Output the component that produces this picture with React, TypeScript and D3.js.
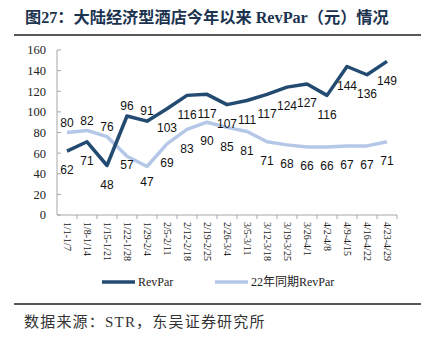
import React from "react";
import * as d3 from "d3";

const categories = ["1/1-1/7","1/8-1/14","1/15-1/21","1/22-1/28","1/29-2/4","2/5-2/11","2/12-2/18","2/19-2/25","2/26-3/4","3/5-3/11","3/12-3/18","3/19-3/25","3/26-4/1","4/2-4/8","4/9-4/15","4/16-4/22","4/23-4/29"];
const revpar = [62,71,48,96,91,103,116,117,107,111,117,124,127,116,144,136,149];
const revpar22 = [80,82,76,57,47,69,83,90,85,81,71,68,66,66,67,67,71];
const yTicks = [0,20,40,60,80,100,120,140,160];
const seriesNames = ["RevPar", "22年同期RevPar"];

const W = 425, H = 340;
const serif = "'Liberation Serif', 'DejaVu Serif', 'Noto Sans CJK SC', serif";
const sans = "'Liberation Sans', Arial, sans-serif";
const DARK = "#234a70";
const LIGHT = "#b4c7e7";

export default function App() {
  const x = d3.scaleBand<string>().domain(categories).range([57, 397]);
  const y = d3.scaleLinear().domain([0, 160]).range([215, 50]);
  const cx = (i: number) => (x(categories[i]) as number) + x.bandwidth() / 2;
  const line = d3.line<number>().x((_, i) => cx(i)).y((d) => y(d));

  // label offset logic (center y relative to point)
  const darkOff = (i: number) => (i === 3 || i === 4 ? -10 : 19);
  const lightOff = (i: number) => (i <= 2 ? -10 : i === 3 ? 9 : i === 4 ? 15 : 19);

  return (
    <svg width={W} height={H} style={{ position: "absolute", left: 0, top: 0, background: "#fff" }}>
      <text x={25} y={23} fontFamily={serif} fontWeight="bold" fontSize={16.2} fill="#1c3350">
        图27：大陆经济型酒店今年以来 RevPar（元）情况
      </text>
      <line x1={14} x2={421} y1={35} y2={35} stroke="#222" strokeWidth={1.5} />

      {/* y axis */}
      <line x1={57} x2={57} y1={y(160)} y2={y(0)} stroke="#a6a6a6" strokeWidth={1} />
      {yTicks.map((t) => (
        <g key={t}>
          <line x1={57} x2={61} y1={y(t)} y2={y(t)} stroke="#a6a6a6" />
          <text x={46} y={y(t)} dy="0.35em" textAnchor="end" fontFamily={serif} fontSize={12.5} fill="#222">{t}</text>
        </g>
      ))}
      {/* x axis */}
      <line x1={57} x2={397} y1={y(0)} y2={y(0)} stroke="#a6a6a6" />
      {categories.map((c, i) => (
        <g key={c}>
          <line x1={(x(c) as number) + x.bandwidth()} x2={(x(c) as number) + x.bandwidth()} y1={y(0)} y2={y(0) + 4} stroke="#a6a6a6" />
          <text transform={`translate(${cx(i) - 3.5},${222}) rotate(90)`} fontFamily={serif} fontSize={10} fill="#222">{c}</text>
        </g>
      ))}

      <path d={line(revpar22) || ""} fill="none" stroke={LIGHT} strokeWidth={3.5} strokeLinejoin="round" />
      <path d={line(revpar) || ""} fill="none" stroke={DARK} strokeWidth={3.5} strokeLinejoin="round" />

      {revpar.map((v, i) => (
        <text key={"d" + i} x={cx(i)} y={y(v) + darkOff(i)} dy="0.35em" textAnchor="middle" fontFamily={sans} fontSize={12} fill="#111">{v}</text>
      ))}
      {revpar22.map((v, i) => (
        <text key={"l" + i} x={cx(i)} y={y(v) + lightOff(i)} dy="0.35em" textAnchor="middle" fontFamily={sans} fontSize={12} fill="#111">{v}</text>
      ))}

      {/* legend */}
      <line x1={102} x2={135} y1={282} y2={282} stroke={DARK} strokeWidth={3.5} />
      <text x={138} y={286} fontFamily={serif} fontSize={12} fill="#222">{seriesNames[0]}</text>
      <line x1={215} x2={248} y1={282} y2={282} stroke={LIGHT} strokeWidth={3.5} />
      <text x={251} y={286} fontFamily={serif} fontSize={12} fill="#222">{seriesNames[1]}</text>

      <line x1={14} x2={421} y1={304} y2={304} stroke="#222" strokeWidth={1.5} />
      <text x={24} y={327} fontFamily={serif} fontSize={15} letterSpacing={1.2} fill="#333">数据来源：STR，东吴证券研究所</text>
    </svg>
  );
}
